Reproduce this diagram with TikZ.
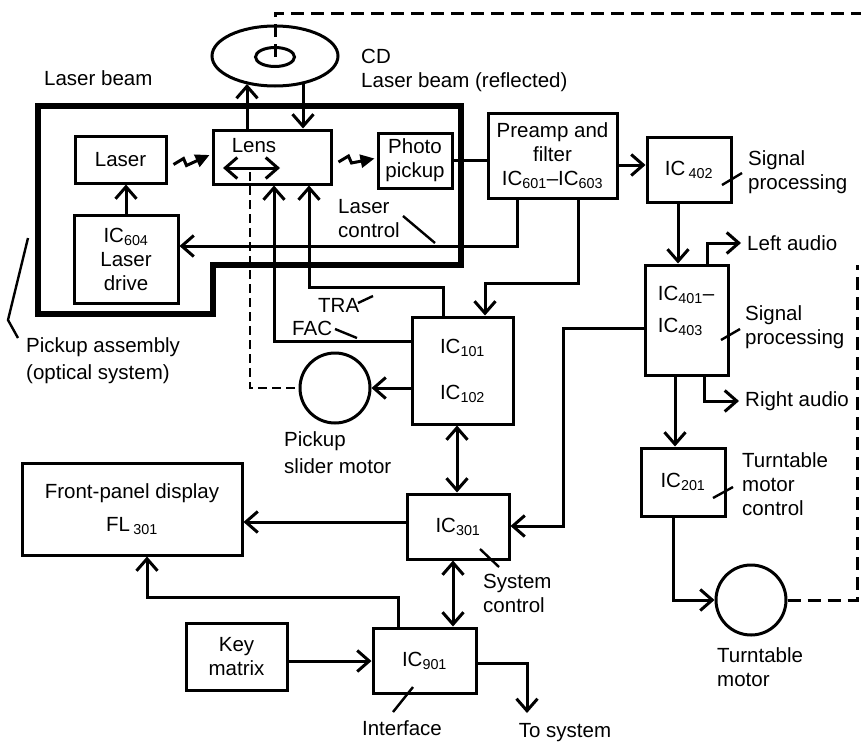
\documentclass[tikz,border=0pt]{standalone}
\usepackage{fontspec}
\setmainfont{Liberation Sans}
\usetikzlibrary{arrows.meta,shapes.geometric,calc}
\begin{document}
\begin{tikzpicture}[x=1pt,y=-1pt, font=\fontsize{20.5}{24}\selectfont,
  >={Straight Barb[length=12pt,width=21pt]},
  blk/.style={draw,line width=3pt,inner sep=0pt,align=center},
  lbl/.style={inner sep=0pt,align=left},
  wire/.style={line width=3pt},
  tick/.style={line width=2.4pt},
  dsh/.style={line width=3pt,dash pattern=on 13pt off 7pt},
  zz/.style={line width=3pt,-{Triangle[length=14pt,width=13pt]}},
  motor/.style={draw,circle,line width=3pt,minimum size=70pt,inner sep=0pt}]
\useasboundingbox (0,0) rectangle (861,744);
% pickup assembly outline
\draw[line width=6.5pt,line join=miter] (38,106) -- (461,106) -- (461,265) -- (213,265) -- (213,314) -- (38,314) -- cycle;
% CD
\node[draw,ellipse,line width=3pt,minimum width=126pt,minimum height=60pt,inner sep=0pt] (cd) at (275,56) {};
\node[draw,ellipse,line width=3pt,minimum width=39pt,minimum height=19pt,inner sep=0pt] (hub) at (275,57) {};
% blocks
\node[blk,minimum width=91pt,minimum height=47pt] (laser) at (120.5,159.5) {Laser};
\node[blk,minimum width=118pt,minimum height=54pt] (lens) at (272,157) {};
\node[lbl] (lenst) at (254,146) {Lens};
\node[blk,minimum width=74pt,minimum height=55pt] (photo) at (415,160.5) {Photo\\pickup};
\node[blk,minimum width=104pt,minimum height=88pt] (ic604) at (126,259) {IC\textsubscript{604}\\Laser\\drive};
\node[blk,minimum width=129pt,minimum height=85pt] (pre) at (552.5,155.5) {Preamp and\\filter\\IC\textsubscript{601}–IC\textsubscript{603}};
\node[blk,minimum width=84pt,minimum height=65pt] (ic402) at (689,169.5) {IC\,\textsubscript{402}};
\node[blk,minimum width=83pt,minimum height=110pt] (ic401) at (686.5,320) {};
\node[lbl] (t401) at (686,311) {IC\textsubscript{401}–\\[8pt]IC\textsubscript{403}};
\node[blk,minimum width=101pt,minimum height=107pt] (ic101) at (462.5,370.5) {IC\textsubscript{101}\\[22pt]IC\textsubscript{102}};
\node[motor] (slider) at (335,388) {};
\node[blk,minimum width=102pt,minimum height=65pt] (ic301) at (458,526.5) {IC\textsubscript{301}};
\node[blk,minimum width=84pt,minimum height=68pt] (ic201) at (683,482) {IC\textsubscript{201}};
\node[motor] (tmotor) at (751,600) {};
\node[blk,minimum width=220pt,minimum height=92pt] (fpd) at (132,509) {Front-panel display\\[9pt]FL\,\textsubscript{301}};
\node[blk,minimum width=101pt,minimum height=67pt] (key) at (236.5,656.5) {Key\\matrix};
\node[blk,minimum width=103pt,minimum height=65pt] (ic901) at (424.5,660.5) {IC\textsubscript{901}};
% labels
\node[lbl,anchor=west] (lb1) at (44,78) {Laser beam};
\node[lbl,anchor=west] (cdl) at (361,56) {CD};
\node[lbl,anchor=west] (lb2) at (361,82) {Laser beam (reflected)};
\node[lbl,anchor=west] (lc) at (338,219) {Laser\\control};
\node[lbl,anchor=west] (sp1) at (748,172.5) {Signal\\processing};
\node[lbl,anchor=west] (la) at (747,243) {Left audio};
\node[lbl,anchor=west] (sp2) at (745,327) {Signal\\processing};
\node[lbl,anchor=west] (ra) at (745,401) {Right audio};
\node[lbl,anchor=west] (tmc) at (742,484) {Turntable\\motor\\control};
\node[lbl,anchor=west] (tra) at (318,305) {TRA};
\node[lbl,anchor=west] (fac) at (292,328) {FAC};
\node[lbl,anchor=west] (psm) at (284,453) {Pickup\\[3pt]slider motor};
\node[lbl,anchor=west] (pa) at (26,361) {Pickup assembly\\[3pt](optical system)};
\node[lbl,anchor=west] (sc) at (483,593) {System\\control};
\node[lbl] (intf) at (402,728) {Interface};
\node[lbl] (tosys) at (565,733) {To system};
\node[lbl,anchor=west] (tm) at (717,667) {Turntable\\motor};
% coordinates
\coordinate (cdA) at (247,84);
\coordinate (cdB) at (303,84);
\coordinate (tosysend) at (527,713);
\coordinate (lensmid) at (250,172);
% connectors
\draw[wire,->] (lens.north -| cdA) -- (cdA);
\draw[wire,->] (cdB) -- (lens.north -| cdB);
\draw[wire,->] (ic604.north) -- (laser.south -| ic604.north);
\draw[zz] ([xshift=6pt,yshift=-5pt]laser.east) -- ++(10,-6) -- ++(3,7) -- ([xshift=-2pt,yshift=2pt]lens.west);
\draw[zz] ([xshift=6pt,yshift=-5pt]lens.east) -- ++(10,-6) -- ++(3,7) -- ([xshift=-2pt,yshift=2pt]photo.west);
\draw[wire] (photo.east) -- (photo.east -| pre.west);
\draw[wire,->] (pre.east |- 0,165) -- (ic402.west |- 0,165);
\draw[wire,->] (pre.south -| 517,0) |- (ic604.east |- 0,246);
\draw[wire,->] (pre.south -| 578,0) |- (485,283) -- (ic101.north -| 485,0);
\draw[wire,->] (ic402.south -| 678,0) -- (ic401.north -| 678,0);
\draw[wire,->] (ic401.north -| 707,0) |- ([xshift=-6pt]la.west);
\draw[wire,->] (ic401.south -| 704,0) |- ([xshift=-6pt]ra.west);
\draw[wire,->] (ic401.south -| 675,0) -- (ic201.north -| 675,0);
\draw[wire,->] (ic201.south -| 673,0) |- (tmotor.west);
\draw[dsh] (tmotor.east) -| (857,265);
\draw[dsh] (hub.center) -- (hub.center |- 0,13) -- (861,13);
\draw[wire,->] (ic401.west |- 0,328) -| (563,526) -- (ic301.east |- 0,526);
\draw[wire,<->] (ic101.south -| 457,0) -- (ic301.north -| 457,0);
\draw[wire,<->] (ic301.south -| 453,0) -- (ic901.north -| 453,0);
\draw[wire,->] (ic301.west |- 0,522) -- (fpd.east |- 0,522);
\draw[wire,->] (ic901.north -| 398,0) |- (147,597) -- (fpd.south -| 147,0);
\draw[wire,->] (key.east |- 0,661) -- (ic901.west |- 0,661);
\draw[wire,->] (ic901.east |- 0,663) -| (tosysend);
\draw[wire,->] (ic101.north -| 443,0) |- (309,287) -- (lens.south -| 309,0);
\draw[wire,->] (ic101.west |- 0,341) -| (lens.south -| 274,0);
\draw[wire,->] (ic101.west |- slider) -- (slider.east);
\draw[wire,<->] (223,168) -- (280,168);
\draw[line width=2.6pt,dash pattern=on 9pt off 5pt] (lensmid) -- (250,388) -- (slider.west);
% leader ticks
\draw[tick] (403,216) -- (435,243);
\draw[tick] (722,185) -- (742,173);
\draw[tick] (721,340) -- (740,329);
\draw[tick] (358,303) -- (373,296);
\draw[tick] (335,329) -- (357,338);
\draw[tick] (713,498) -- (733,487);
\draw[tick] (480,549) -- (499,567);
\draw[tick] (393,712) -- (413,687);
\draw[tick] (28,238) -- (8,320) -- (18,338);
\end{tikzpicture}
\end{document}
